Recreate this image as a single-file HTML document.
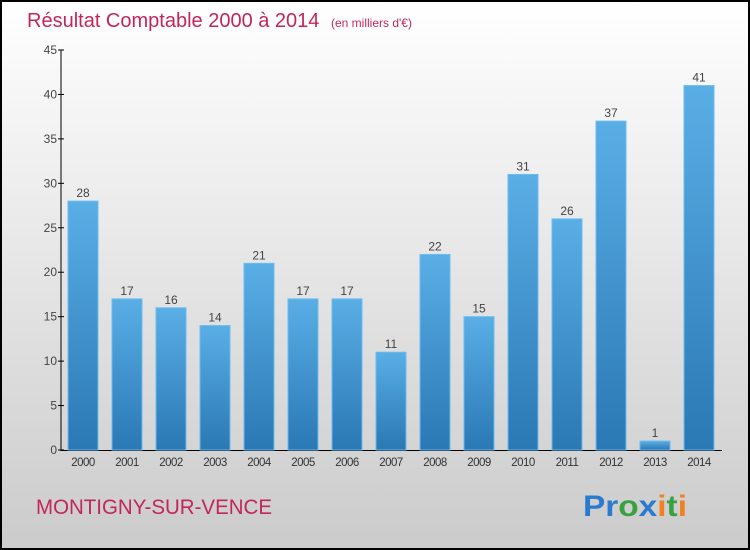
<!DOCTYPE html>
<html><head><meta charset="utf-8"><style>
html,body{margin:0;padding:0;width:750px;height:550px;overflow:hidden}
svg{display:block;font-family:"Liberation Sans",sans-serif}
</style></head><body>
<svg id="chart" width="750" height="550">
<defs>
<linearGradient id="bg" x1="0" y1="0" x2="0" y2="1"><stop offset="0" stop-color="#ffffff"/><stop offset="1" stop-color="#cbcbcb"/></linearGradient>
<linearGradient id="bar" x1="0" y1="0" x2="0" y2="1"><stop offset="0" stop-color="#5aaee6"/><stop offset="1" stop-color="#2a78b4"/></linearGradient>
</defs>
<rect x="1" y="1" width="748" height="548" fill="url(#bg)" stroke="#000" stroke-width="2"/>
<text x="27" y="27" font-size="20" fill="#c2275a">Résultat Comptable 2000 à 2014 <tspan font-size="12" dx="6">(en milliers d'€)</tspan></text>
<g id="plot"></g>
<text x="36" y="514" font-size="21" fill="#c2275a" textLength="236" lengthAdjust="spacingAndGlyphs">MONTIGNY-SUR-VENCE</text>
<text x="583" y="516" font-size="30" font-weight="bold" textLength="104" lengthAdjust="spacingAndGlyphs"><tspan fill="#2a7ad0">Pr</tspan><tspan fill="#3aa040">o</tspan><tspan fill="#2a7ad0">x</tspan><tspan fill="#f08020">i</tspan><tspan fill="#3aa040">t</tspan><tspan fill="#f08020">i</tspan></text>
</svg>
<script>
const years=["2000","2001","2002","2003","2004","2005","2006","2007","2008","2009","2010","2011","2012","2013","2014"];
const values=[28,17,16,14,21,17,17,11,22,15,31,26,37,1,41];
const yTicks=[0,5,10,15,20,25,30,35,40,45];
const NS="http://www.w3.org/2000/svg";
const g=document.getElementById('plot');
const y=v=>450-v*400/45;
const x=i=>68+i*44;
function mk(t,a,txt){const e=document.createElementNS(NS,t);for(const k in a)e.setAttribute(k,a[k]);if(txt!=null)e.textContent=txt;g.appendChild(e);return e;}
let ax=mk('line',{x1:61,y1:50,x2:61,y2:451,stroke:'#000','stroke-width':1});


let bx=mk('line',{x1:61,y1:450.5,x2:722,y2:450.5,stroke:'#000','stroke-width':1});


yTicks.forEach(t=>{
 let tk=mk('line',{x1:58,y1:y(t),x2:64,y2:y(t),stroke:'#000'});
 
 
 let l=mk('text',{x:57,y:y(t)+4,'font-size':12,'text-anchor':'end',fill:'#444'},t);
 
 
});
values.forEach((v,i)=>{
 let r=mk('rect',{x:x(i),y:y(v),width:30,height:450-y(v),fill:'url(#bar)',stroke:'#6bbcef','stroke-width':1});
 
 
 let vl=mk('text',{x:x(i)+15,y:y(v)-4,'font-size':12,'text-anchor':'middle',fill:'#444'},v);
 
 
 let xl=mk('text',{x:x(i)+15,y:466,'font-size':11.5,'text-anchor':'middle',fill:'#333','letter-spacing':'-0.5'},years[i]);
 
 
});
</script>
</body></html>
